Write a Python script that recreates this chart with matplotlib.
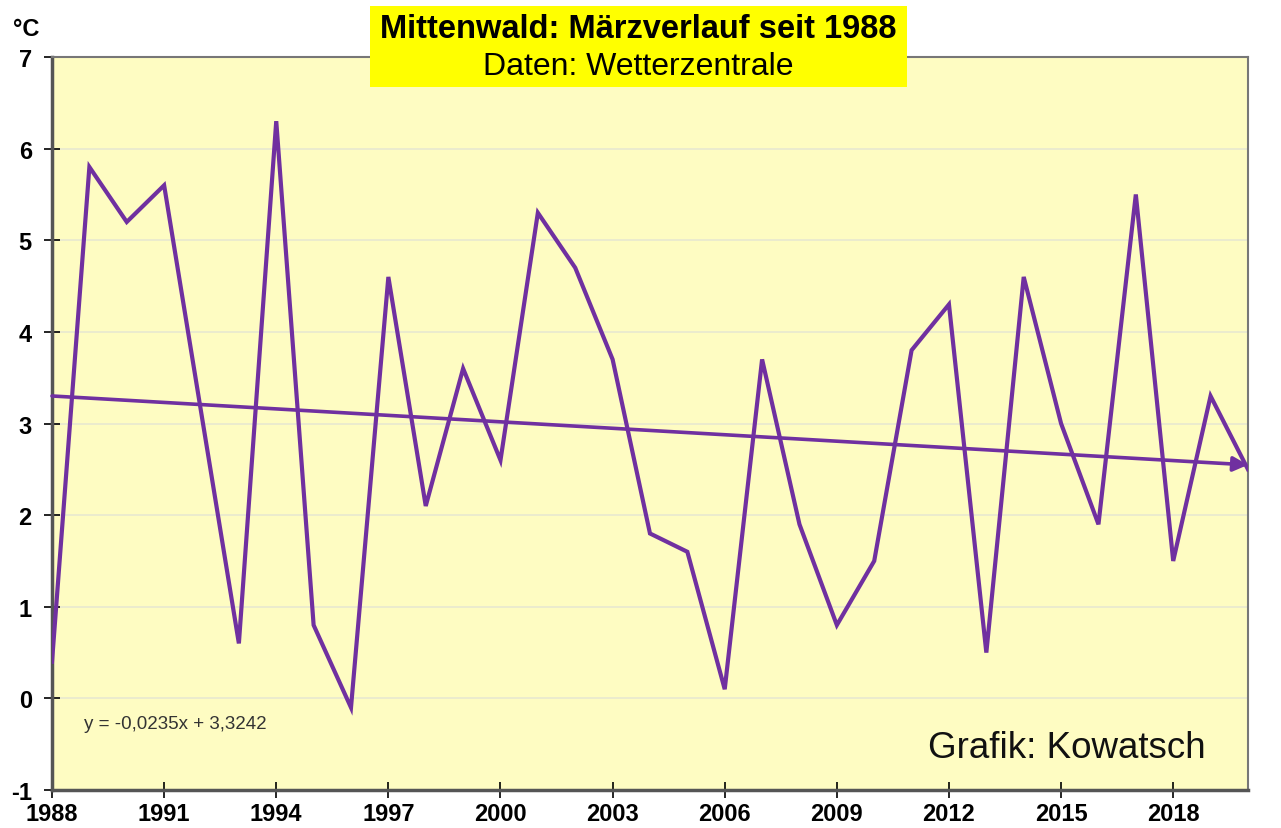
import matplotlib.pyplot as plt
from matplotlib.patches import Rectangle

plt.rcParams['axes.unicode_minus'] = False

# Maerz-Mitteltemperaturen Mittenwald
jahre = list(range(1988, 2021))
temperatur = [0.4, 5.8, 5.2, 5.6, 3.1, 0.6, 6.3, 0.8, -0.1, 4.6,
              2.1, 3.6, 2.6, 5.3, 4.7, 3.7, 1.8, 1.6, 0.1, 3.7,
              1.9, 0.8, 1.5, 3.8, 4.3, 0.5, 4.6, 3.0, 1.9, 5.5,
              1.5, 3.3, 2.5]
x_ticks = list(range(1988, 2021, 3))
y_ticks = list(range(-1, 8))

# Trendlinie (Excel): y = -0,0235x + 3,3242, x = 1..n
steigung = -0.0235
achsenabschnitt = 3.3242

lila = '#7030A0'
fig = plt.figure(figsize=(12.81, 8.29), dpi=100, facecolor='white')
ax = fig.add_axes([0.0406, 0.0458, 0.9336, 0.8842])
ax.set_facecolor('#FEFCC2')

ax.plot(jahre, temperatur, color=lila, linewidth=3.0, solid_joinstyle='miter', zorder=3)

x1, x2 = jahre[0], jahre[-1]
y1 = steigung * 1 + achsenabschnitt
y2 = steigung * len(jahre) + achsenabschnitt
ax.annotate('', xy=(x2, y2), xytext=(x1, y1),
            arrowprops=dict(arrowstyle='-|>', color=lila, lw=2.6,
                            mutation_scale=22, shrinkA=0, shrinkB=0), zorder=3)

ax.set_xlim(1988, 2020)
ax.set_ylim(-1, 7)
ax.set_xticks(x_ticks)
ax.set_yticks(y_ticks)
ax.grid(axis='y', color='#E8E8D0', linewidth=1.2, zorder=0)
ax.set_axisbelow(True)

ax.tick_params(axis='both', direction='inout', length=11, width=1.2, colors='black',
               labelsize=17)
ax.tick_params(axis='y', pad=9)
ax.tick_params(axis='x', pad=3)
for lbl in ax.get_xticklabels() + ax.get_yticklabels():
    lbl.set_fontfamily('Liberation Sans')
    lbl.set_fontweight('bold')

for s in ['left', 'bottom']:
    ax.spines[s].set_color('#555555')
    ax.spines[s].set_linewidth(2.5)
for s in ['top', 'right']:
    ax.spines[s].set_color('#777777')
    ax.spines[s].set_linewidth(1.5)

fig.text(0.010, 0.965, '°C', fontsize=17, fontweight='bold', family='Liberation Sans',
         ha='left', va='center')

# Titelkasten
box = Rectangle((370 / 1281, 1 - 88 / 829), 537 / 1281, 81 / 829,
                transform=fig.transFigure, facecolor='#FFFF00', edgecolor='none', zorder=5)
fig.patches.append(box)
fig.text(638 / 1281, 1 - 30 / 829, 'Mittenwald: Märzverlauf seit 1988', fontsize=23.5,
         fontweight='bold', family='Liberation Sans', ha='center', va='center', zorder=6)
fig.text(638 / 1281, 1 - 67 / 829, 'Daten: Wetterzentrale', fontsize=23,
         family='Liberation Sans', ha='center', va='center', zorder=6)

ax.text(1988.85, -0.27, 'y = -0,0235x + 3,3242', fontsize=13.5, family='Liberation Sans',
        color='#333333', ha='left', va='center')
ax.text(2018.87, -0.54, 'Grafik: Kowatsch', fontsize=26.5, family='Liberation Sans',
        color='#111111', ha='right', va='center')

plt.savefig('out.png', dpi=100, facecolor='white')
